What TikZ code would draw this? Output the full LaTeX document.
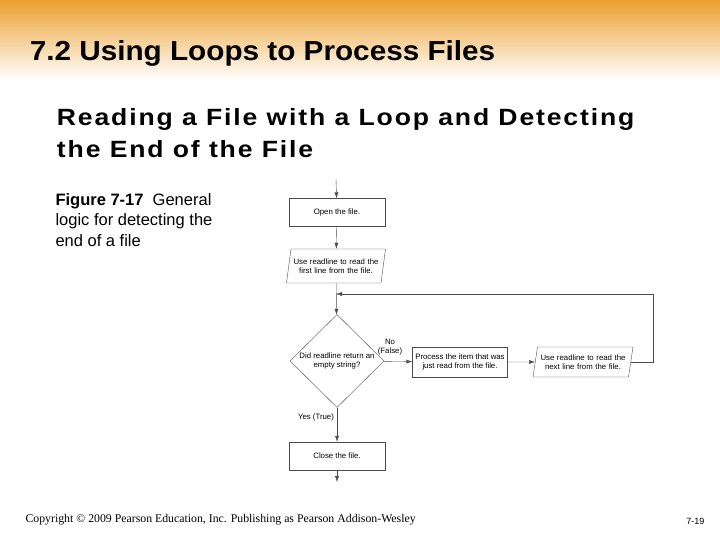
\documentclass[tikz,border=0pt]{standalone}
\usepackage{fontspec}
\setmainfont{Liberation Sans}
\newfontfamily\serifft{Liberation Serif}
\newfontfamily\spacedft[LetterSpace=7]{Liberation Sans}
\usetikzlibrary{shapes.geometric,arrows.meta}
\definecolor{topor}{HTML}{EBA030}
\begin{document}
\begin{tikzpicture}[x=1pt,y=-1pt,
  box/.style={draw=black!70,fill=white,minimum width=96pt,minimum height=28pt,font=\fontsize{7.8}{9}\selectfont,align=center,inner sep=1pt},
  para/.style={trapezium,trapezium left angle=73,trapezium right angle=107,draw=black!70,minimum height=34pt,text width=90pt,font=\fontsize{7.8}{9}\selectfont,align=center,inner sep=0pt},
  dia/.style={diamond,draw=black!70,minimum width=94pt,minimum height=93pt,aspect=1,font=\fontsize{7.8}{9}\selectfont,align=center,inner sep=0pt},
  arr/.style={draw=black!70,-{Latex[length=6pt,width=4pt]}},
  lbl/.style={font=\fontsize{7.8}{9}\selectfont,align=center}]
\useasboundingbox (0,0) rectangle (720,540);
\shade[top color=topor,bottom color=white] (0,0) rectangle (720,80);
\node[anchor=base west,xscale=1.08,font=\bfseries\fontsize{27.5}{30}\selectfont] (title) at (26,61) {7.2 Using Loops to Process Files};
\node[anchor=north west,xscale=1.13,align=left,font=\spacedft\bfseries\fontsize{23.5}{32}\selectfont] (sub) at (53,105) {Reading a File with a Loop and Detecting\\the End of the File};
\node[anchor=north west,align=left,font=\fontsize{16.5}{20.5}\selectfont] (cap) at (52,190) {\textbf{Figure 7-17}\ \ General\\logic for detecting the\\end of a file};
\node[anchor=base west,font=\serifft\fontsize{11.8}{14}\selectfont] (copy) at (22,522) {Copyright © 2009 Pearson Education, Inc. Publishing as Pearson Addison-Wesley};
\node[anchor=base east,font=\fontsize{9}{10}\selectfont] (pg) at (708,524) {7-19};

\coordinate (in) at (336,179);
\node[box] (open) at (337,212.5) {Open the file.};
\node[para,trapezium stretches body,minimum width=98pt] (read1) at (336,266) {Use readline to read the\\first line from the file.};
\node[dia] (dec) at (337,361) {Did readline return an\\empty string?};
\node[box,minimum width=95pt,minimum height=30pt] (proc) at (460,362) {Process the item that was\\just read from the file.};
\node[para,trapezium stretches body,minimum height=30pt,minimum width=100pt] (read2) at (583,362) {Use readline to read the\\next line from the file.};
\node[box] (close) at (337,456) {Close the file.};
\coordinate (out) at (337,482);
\coordinate (join) at (336,294);
\coordinate (rt) at (653,294);
\node[lbl] (no) at (390,347) {No\\(False)};
\node[lbl] (yes) at (316,417) {Yes (True)};

\draw[arr] (in) -- (open);
\draw[arr] (open) -- (read1);
\draw[arr] (read1) -- (dec);
\draw[arr] (dec) -- (proc);
\draw[arr] (proc) -- (read2);
\draw[draw=black!70] (read2.east) -| (rt);
\draw[arr] (rt) -- (join);
\draw[arr] (dec) -- (close);
\draw[arr] (close) -- (out);
\end{tikzpicture}
\end{document}
